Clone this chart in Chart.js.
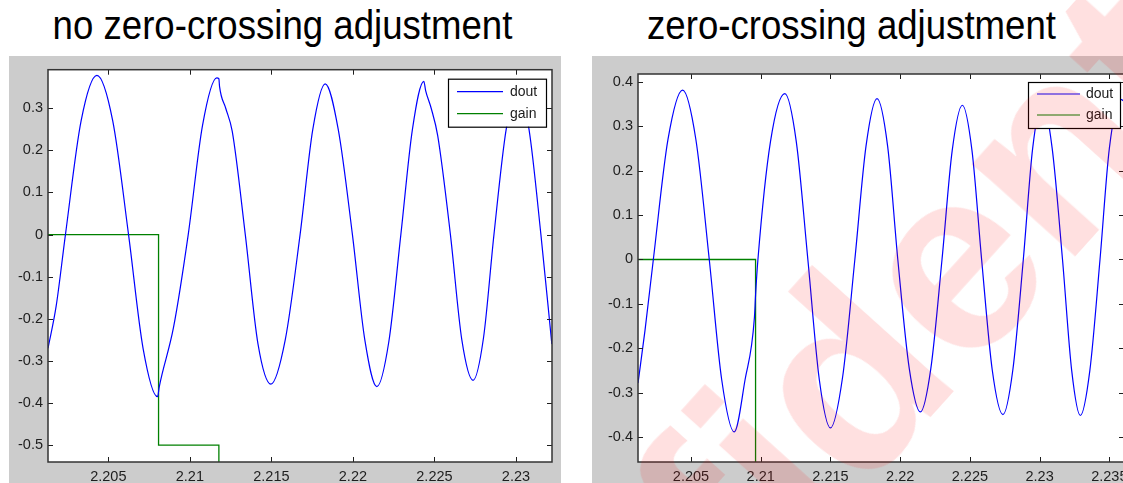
<!DOCTYPE html>
<html>
<head>
<meta charset="utf-8">
<script src="https://cdn.jsdelivr.net/npm/chart.js@4.4.0/dist/chart.umd.min.js"></script>
<style>
html, body { margin: 0; padding: 0; background: #fff; width: 1123px; height: 483px; overflow: hidden; }
.title { position: absolute; top: 5px; font-family: "Liberation Sans", Arial, sans-serif; font-size: 40px;
         line-height: 40px; text-align: center; color: #000; transform: scaleX(0.915); white-space: nowrap; }
.panel { position: absolute; top: 56px; height: 427px; background: #cccccc; }
.watermark { position: absolute; left: 850px; top: 372px; transform: translate(-50%, -50%) rotate(-48deg);
             font-family: "Liberation Sans", Arial, sans-serif; font-weight: bold; font-size: 262px; line-height: 1;
             color: rgba(255, 0, 0, 0.12); white-space: nowrap; pointer-events: none; }
</style>
</head>
<body>
<div class="title" style="left:0;width:565px">no zero-crossing adjustment</div>
<div class="title" style="left:592px;width:519px">zero-crossing adjustment</div>
<div class="panel" style="left:9px;width:552px"><canvas id="leftChart" width="552" height="427"></canvas></div>
<div class="panel" style="left:592px;width:560px"><canvas id="rightChart" width="560" height="427"></canvas></div>
<div class="watermark">Confidential</div>
<script>
// tick values and labels
const xTicks = [2.205, 2.21, 2.215, 2.22, 2.225, 2.23, 2.235];
const xTickLabels = ['2.205', '2.21', '2.215', '2.22', '2.225', '2.23', '2.235'];
const leftYTicks = [-0.5, -0.4, -0.3, -0.2, -0.1, 0, 0.1, 0.2, 0.3];
const leftYTickLabels = ['-0.5', '-0.4', '-0.3', '-0.2', '-0.1', '0', '0.1', '0.2', '0.3'];
const rightYTicks = [-0.4, -0.3, -0.2, -0.1, 0, 0.1, 0.2, 0.3, 0.4];
const rightYTickLabels = ['-0.4', '-0.3', '-0.2', '-0.1', '0', '0.1', '0.2', '0.3', '0.4'];

// left: no zero-crossing adjustment
const leftDoutX = [2.2013, 2.2018, 2.20237, 2.20333, 2.2043, 2.20527, 2.20624, 2.20713, 2.20802, 2.20812,
  2.2090, 2.2099, 2.21078, 2.21165, 2.21178, 2.21182, 2.2122, 2.2126, 2.2134, 2.21418, 2.21497, 2.21585,
  2.21676, 2.21754, 2.2183, 2.2191, 2.21997, 2.22073, 2.22147, 2.2222, 2.22294, 2.22365, 2.22435, 2.22446,
  2.2248, 2.2252, 2.22598, 2.22668, 2.22737, 2.22801, 2.22865, 2.2294, 2.23012, 2.2308, 2.23153, 2.2322];
const leftDoutY = [-0.27, -0.17, 0, 0.27, 0.378, 0.27, 0, -0.27, -0.385, -0.362,
  -0.22, 0, 0.26, 0.372, 0.37, 0.352, 0.30, 0.245, 0, -0.26, -0.355, -0.25,
  0, 0.25, 0.358, 0.25, 0, -0.25, -0.361, -0.255, 0, 0.25, 0.364, 0.342,
  0.30, 0.235, 0, -0.25, -0.346, -0.245, 0, 0.25, 0.35, 0.25, 0, -0.26];
const leftGainX = [2.2013, 2.20808, 2.20808, 2.21178, 2.21178];
const leftGainY = [0, 0, -0.5, -0.5, -1];

// right: zero-crossing adjustment
const rightDoutX = [2.2012, 2.2017, 2.2023, 2.20335, 2.2044, 2.20535, 2.20631, 2.2072, 2.2081, 2.20888,
  2.20955, 2.20963, 2.2098, 2.2107, 2.21173, 2.21255, 2.21338, 2.2142, 2.215, 2.21587, 2.21675, 2.21755,
  2.21834, 2.2191, 2.21983, 2.22065, 2.22145, 2.2222, 2.2230, 2.22373, 2.22446, 2.22515, 2.22584, 2.2266,
  2.22737, 2.22808, 2.22883, 2.2295, 2.2302, 2.2309, 2.23164, 2.2323, 2.23292, 2.2336, 2.23433, 2.235,
  2.2358, 2.2361];
const rightDoutY = [-0.278, -0.16, 0, 0.27, 0.381, 0.27, 0, -0.27, -0.388, -0.27,
  -0.13, -0.08, 0, 0.265, 0.373, 0.265, 0, -0.27, -0.379, -0.265, 0, 0.255,
  0.362, 0.255, 0, -0.245, -0.343, -0.245, 0, 0.245, 0.347, 0.245, 0, -0.248,
  -0.349, -0.248, 0, 0.25, 0.355, 0.25, 0, -0.25, -0.351, -0.25, 0, 0.25,
  0.36, 0.355];
const rightGainX = [2.2012, 2.20963, 2.20963];
const rightGainY = [0, 0, -1];

const FONT = '"Liberation Sans", Arial, sans-serif';
const AXIS_COLOR = '#1e1e1e';

function toPoints(xs, ys) {
  return xs.map((x, i) => ({ x: x, y: ys[i] }));
}

// MATLAB-like axes: white plot area, inward ticks on all four sides, legend box
const matlabFrame = {
  id: 'matlabFrame',
  beforeDatasetsDraw(chart) {
    const { ctx, chartArea: a } = chart;
    ctx.save();
    ctx.fillStyle = '#ffffff';
    ctx.fillRect(a.left, a.top, a.right - a.left, a.bottom - a.top);
    ctx.restore();
  },
  afterDatasetsDraw(chart, args, opts) {
    const { ctx, chartArea: a } = chart;
    const xs = chart.scales.x, ys = chart.scales.y;
    ctx.save();
    ctx.strokeStyle = AXIS_COLOR;
    ctx.lineWidth = 1;
    ctx.beginPath();
    xs.ticks.forEach(t => {
      const px = Math.round(xs.getPixelForValue(t.value)) + 0.5;
      ctx.moveTo(px, a.bottom); ctx.lineTo(px, a.bottom - 5);
      ctx.moveTo(px, a.top); ctx.lineTo(px, a.top + 5);
    });
    ys.ticks.forEach(t => {
      const py = Math.round(ys.getPixelForValue(t.value)) + 0.5;
      ctx.moveTo(a.left, py); ctx.lineTo(a.left + 5, py);
      ctx.moveTo(a.right, py); ctx.lineTo(a.right - 5, py);
    });
    ctx.stroke();
    ctx.lineWidth = 1.5;
    ctx.strokeStyle = '#333';
    ctx.strokeRect(a.left, a.top, a.right - a.left, a.bottom - a.top);

    // legend
    const lg = opts.legend;
    const bx = a.right - lg.right - lg.width;
    const by = a.top + lg.top;
    ctx.fillStyle = '#fff';
    ctx.fillRect(bx, by, lg.width, lg.height);
    ctx.lineWidth = 1.2;
    ctx.strokeStyle = '#000';
    ctx.strokeRect(bx + 0.5, by + 0.5, lg.width, lg.height);
    ctx.font = '14px ' + FONT;
    ctx.textBaseline = 'middle';
    chart.data.datasets.forEach((ds, i) => {
      const ry = by + lg.rows[i];
      ctx.strokeStyle = ds.borderColor;
      ctx.lineWidth = 1.2;
      ctx.beginPath();
      ctx.moveTo(bx + lg.lineStart, ry);
      ctx.lineTo(bx + lg.lineStart + lg.lineLen, ry);
      ctx.stroke();
      ctx.fillStyle = '#1a1a1a';
      ctx.fillText(ds.label, bx + lg.textX, ry);
    });
    ctx.restore();
  }
};

function makeChart(id, cfg) {
  const yTicks = cfg.yTicks, yLabels = cfg.yLabels;
  return new Chart(document.getElementById(id), {
    type: 'line',
    data: {
      datasets: [{
        label: 'dout',
        data: toPoints(cfg.doutX, cfg.doutY),
        borderColor: '#0000ff',
        borderWidth: 1.2,
        pointRadius: 0,
        cubicInterpolationMode: 'monotone',
        fill: false
      }, {
        label: 'gain',
        data: toPoints(cfg.gainX, cfg.gainY),
        borderColor: '#008000',
        borderWidth: 1.3,
        pointRadius: 0,
        tension: 0,
        fill: false
      }]
    },
    options: {
      responsive: false,
      animation: false,
      events: [],
      layout: { padding: { top: cfg.padTop, right: cfg.padRight, left: 0, bottom: 0 } },
      scales: {
        x: {
          type: 'linear',
          min: cfg.xMin,
          max: cfg.xMax,
          afterBuildTicks: s => { s.ticks = xTicks.filter(v => v >= cfg.xMin && v <= cfg.xMax).map(v => ({ value: v })); },
          afterFit: s => { s.height = 21; },
          grid: { display: false, drawTicks: false },
          border: { display: false },
          ticks: {
            padding: 6,
            maxRotation: 0,
            autoSkip: false,
            color: AXIS_COLOR,
            font: { family: FONT, size: 14.5 },
            callback: v => xTickLabels[xTicks.indexOf(v)]
          }
        },
        y: {
          type: 'linear',
          min: cfg.yMin,
          max: cfg.yMax,
          afterBuildTicks: s => { s.ticks = yTicks.map(v => ({ value: v })); },
          afterFit: s => { s.width = cfg.yWidth; },
          grid: { display: false, drawTicks: false },
          border: { display: false },
          ticks: {
            padding: 5,
            autoSkip: false,
            color: AXIS_COLOR,
            font: { family: FONT, size: 14.5 },
            callback: v => yLabels[yTicks.indexOf(v)]
          }
        }
      },
      plugins: {
        legend: { display: false },
        tooltip: { enabled: false },
        matlabFrame: { legend: cfg.legend }
      }
    },
    plugins: [matlabFrame]
  });
}

makeChart('leftChart', {
  doutX: leftDoutX, doutY: leftDoutY, gainX: leftGainX, gainY: leftGainY,
  yTicks: leftYTicks, yLabels: leftYTickLabels,
  xMin: 2.2013, xMax: 2.23221, yMin: -0.54, yMax: 0.3915,
  padTop: 9, padRight: 9, yWidth: 39,
  legend: { right: 6, top: 9, width: 98, height: 48, lineStart: 9, lineLen: 46, textX: 62, rows: [13, 35] }
});

makeChart('rightChart', {
  doutX: rightDoutX, doutY: rightDoutY, gainX: rightGainX, gainY: rightGainY,
  yTicks: rightYTicks, yLabels: rightYTickLabels,
  xMin: 2.2012, xMax: 2.23605, yMin: -0.4556, yMax: 0.4173,
  padTop: 18, padRight: 28, yWidth: 46,
  legend: { right: 4, top: 8, width: 92, height: 46, lineStart: 9, lineLen: 43, textX: 58, rows: [12, 33] }
});
</script>
</body>
</html>
